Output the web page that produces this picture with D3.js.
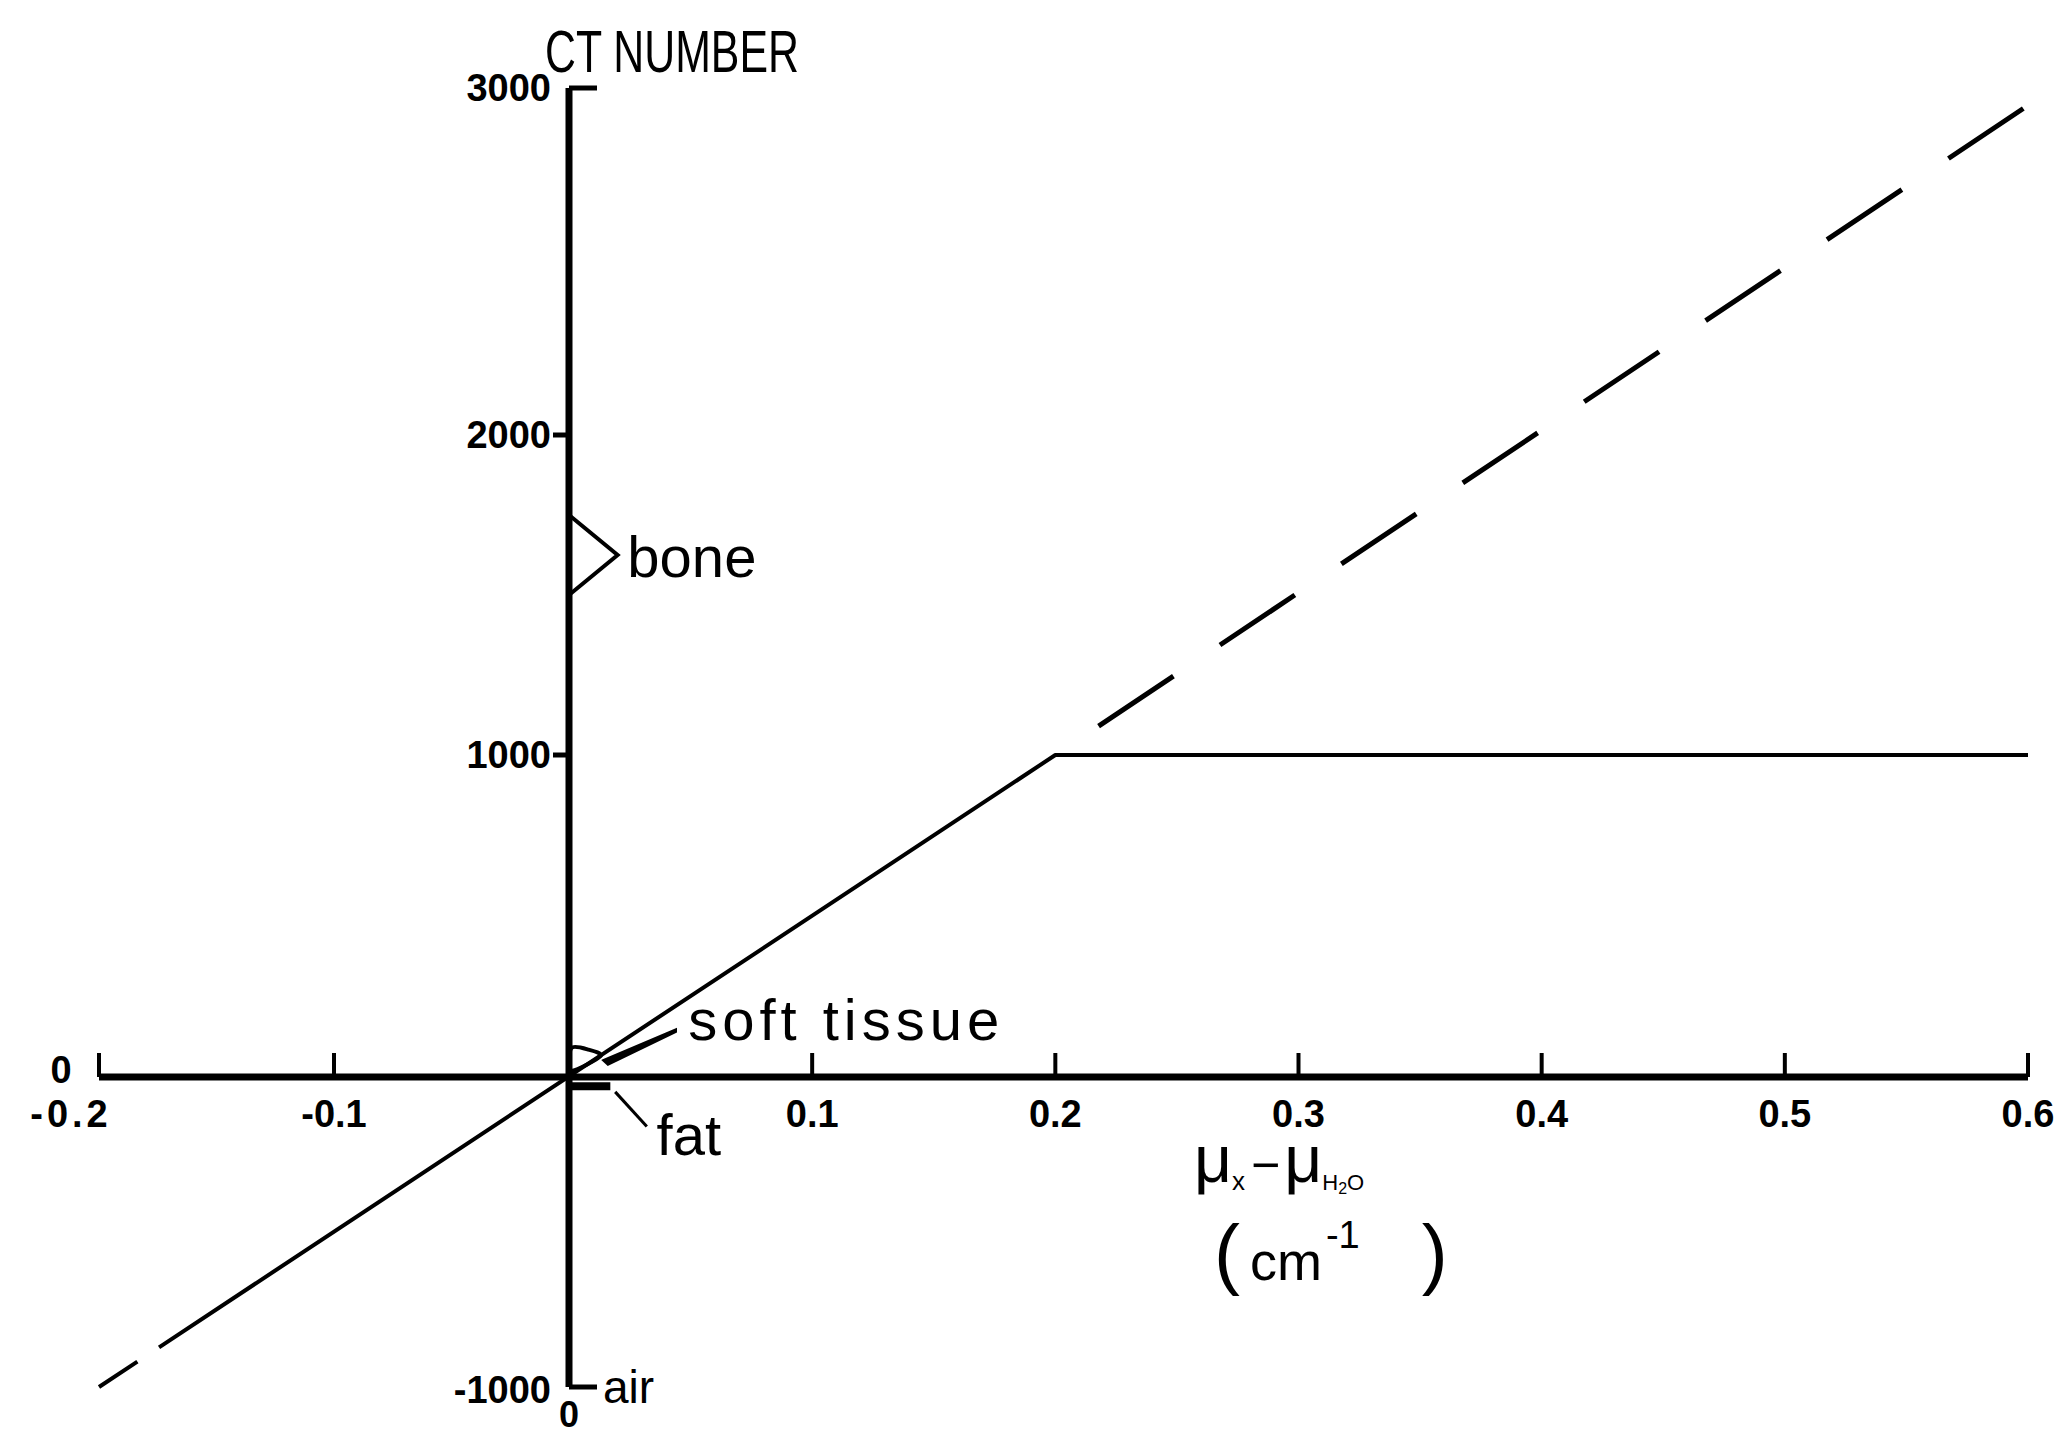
<!DOCTYPE html>
<html>
<head>
<meta charset="utf-8">
<script src="https://cdn.jsdelivr.net/npm/d3@7"></script>
<style>
  html, body { margin: 0; padding: 0; background: #fff; }
  svg { display: block; }
  .lbl { font-family: "Liberation Sans", Arial, sans-serif; fill: #000; }
  .tick { font-family: "Liberation Sans", Arial, sans-serif; font-weight: bold; fill: #000; }
</style>
</head>
<body>
<svg id="chart" width="2069" height="1435"></svg>
<script>
// x axis: attenuation difference mu_x - mu_H2O (cm^-1)
const xTicks = [-0.2, -0.1, 0, 0.1, 0.2, 0.3, 0.4, 0.5, 0.6];
const xTickLabels = ["-0.2", "-0.1", "0", "0.1", "0.2", "0.3", "0.4", "0.5", "0.6"];
// y axis: CT number
const yTicks = [-1000, 0, 1000, 2000, 3000];
const yTickLabels = ["-1000", "0", "1000", "2000", "3000"];

// displayed CT number (saturates at +1000)
const muDiff = [-0.2, 0.2, 0.6];
const ctShown = [-1000, 1000, 1000];
// continuation of the linear relation above the saturation point
const muDiffIdeal = [0.2, 0.6];
const ctIdeal = [1000, 2950];

// tissue ranges on the CT scale
const tissueNames = ["bone", "soft tissue", "fat", "air"];
const tissueLow = [1500, 20, -100, -1000];
const tissueHigh = [1750, 90, -20, -1000];

const svg = d3.select("#chart");
svg.append("rect").attr("width", 2069).attr("height", 1435).attr("fill", "#fff");

// hand-ruled axes: tick spacing is not perfectly even
const x = d3.scaleLinear().domain([-0.2, 0, 0.6]).range([99, 569, 2028]);
const y = d3.scaleLinear().domain([-1000, 0, 1000, 2000, 3000]).range([1387, 1077, 755, 435, 88]);

const g = svg.append("g");

// ---- axes ----
g.append("line")
  .attr("x1", x(xTicks[0])).attr("x2", x(xTicks[xTicks.length - 1]))
  .attr("y1", y(0)).attr("y2", y(0))
  .attr("stroke", "#000").attr("stroke-width", 7);
g.append("line")
  .attr("x1", x(0)).attr("x2", x(0))
  .attr("y1", y(yTicks[0])).attr("y2", y(yTicks[yTicks.length - 1]))
  .attr("stroke", "#000").attr("stroke-width", 7);

// x ticks point upward
g.selectAll(".xt").data(xTicks.filter(d => d !== 0)).enter().append("line")
  .attr("x1", d => x(d)).attr("x2", d => x(d))
  .attr("y1", y(0)).attr("y2", y(0) - 24)
  .attr("stroke", "#000").attr("stroke-width", 4);

// y ticks: end ticks point right, inner ticks point left
const yTickDir = d => (d === 3000 || d === -1000) ? 1 : -1;
g.selectAll(".yt").data(yTicks.filter(d => d !== 0)).enter().append("line")
  .attr("x1", x(0)).attr("x2", d => x(0) + yTickDir(d) * (yTickDir(d) > 0 ? 28 : 16))
  .attr("y1", d => y(d)).attr("y2", d => y(d))
  .attr("stroke", "#000").attr("stroke-width", 5);

// x tick labels
xTicks.forEach((d, i) => {
  if (d === 0) return;
  const shift = d === -0.2 ? -28 : 0;
  g.append("text").attr("class", "tick")
    .attr("x", x(d) + shift).attr("y", y(0) + 50)
    .attr("text-anchor", "middle").attr("font-size", 38)
    .attr("letter-spacing", d === -0.2 ? 4 : 0)
    .text(xTickLabels[i]);
});
// x = 0 label sits under the bottom of the CT axis
g.append("text").attr("class", "tick")
  .attr("x", x(0)).attr("y", y(-1000) + 40)
  .attr("text-anchor", "middle").attr("font-size", 36)
  .text(xTickLabels[xTicks.indexOf(0)]);

// y tick labels
yTicks.forEach((d, i) => {
  if (d === 0) return;
  g.append("text").attr("class", "tick")
    .attr("x", x(0) - 18).attr("y", y(d) + (d === -1000 ? 16 : 13))
    .attr("text-anchor", "end").attr("font-size", 38)
    .text(yTickLabels[i]);
});
// CT = 0 label at the left end of the x axis
g.append("text").attr("class", "tick")
  .attr("x", x(-0.2) - 38).attr("y", y(0) + 6)
  .attr("text-anchor", "middle").attr("font-size", 38)
  .text(yTickLabels[yTicks.indexOf(0)]);

// ---- data lines ----
const line = d3.line().x(d => x(d[0])).y(d => y(d[1]));
g.append("path")
  .attr("d", line(muDiff.map((m, i) => [m, ctShown[i]])))
  .attr("fill", "none").attr("stroke", "#000").attr("stroke-width", 4)
  .attr("stroke-linejoin", "round")
  .attr("stroke-dasharray", "46 26 100000");
g.append("path")
  .attr("d", line(muDiffIdeal.map((m, i) => [m, ctIdeal[i]])))
  .attr("fill", "none").attr("stroke", "#000").attr("stroke-width", 5)
  .attr("stroke-dasharray", "0 52 90 56 90 56 90 56 90 56 90 56 90 56 90 56 90 56 90");

// ---- tissue annotations ----
// bone: bracket from low to high CT value
const bi = tissueNames.indexOf("bone");
const boneMid = (tissueLow[bi] + tissueHigh[bi]) / 2;
g.append("path")
  .attr("d", `M${x(0)},${y(tissueHigh[bi])} L${x(0.02)},${y(boneMid)} L${x(0)},${y(tissueLow[bi])}`)
  .attr("fill", "none").attr("stroke", "#000").attr("stroke-width", 4);
g.append("text").attr("class", "lbl")
  .attr("x", x(0.024)).attr("y", y(boneMid) + 22)
  .attr("font-size", 58).text(tissueNames[bi]);

// soft tissue: small loop just above zero plus leader
const si = tissueNames.indexOf("soft tissue");
const loop = d3.line().x(d => x(d[0])).y(d => y(d[1])).curve(d3.curveCardinalClosed.tension(0.2));
g.append("path")
  .attr("d", loop([[0.001, tissueLow[si]], [0.001, tissueHigh[si]], [0.008, tissueHigh[si] - 5], [0.013, (tissueLow[si] + tissueHigh[si]) / 2 + 10]]))
  .attr("fill", "none").attr("stroke", "#000").attr("stroke-width", 4);
g.append("path")
  .attr("d", `M${x(0.014)},${y(52)} L${x(0.044)},${y(148)} L${x(0.044)},${y(140)} L${x(0.016)},${y(38)} Z`)
  .attr("fill", "#000").attr("stroke", "#000").attr("stroke-width", 2);
g.append("text").attr("class", "lbl")
  .attr("x", x(0.049)).attr("y", y(115))
  .attr("font-size", 58).attr("letter-spacing", 5).text(tissueNames[si]);

// fat: thick stub just below zero plus leader
const fi = tissueNames.indexOf("fat");
g.append("line")
  .attr("x1", x(0)).attr("x2", x(0.017))
  .attr("y1", y((tissueLow[fi] + tissueHigh[fi]) / 4)).attr("y2", y((tissueLow[fi] + tissueHigh[fi]) / 4))
  .attr("stroke", "#000").attr("stroke-width", 8);
g.append("line")
  .attr("x1", x(0.019)).attr("y1", y(-48))
  .attr("x2", x(0.032)).attr("y2", y(-160))
  .attr("stroke", "#000").attr("stroke-width", 3);
g.append("text").attr("class", "lbl")
  .attr("x", x(0.036)).attr("y", y(-250))
  .attr("font-size", 58).text(tissueNames[fi]);

// air: label beside the -1000 end of the axis
const ai = tissueNames.indexOf("air");
g.append("text").attr("class", "lbl")
  .attr("x", x(0) + 34).attr("y", y(tissueLow[ai]) + 16)
  .attr("font-size", 46).text(tissueNames[ai]);

// ---- axis titles ----
svg.append("text").attr("class", "lbl")
  .attr("x", 545).attr("y", 72)
  .attr("font-size", 60)
  .attr("textLength", 254).attr("lengthAdjust", "spacingAndGlyphs")
  .text("CT NUMBER");

const xt = svg.append("text").attr("class", "lbl").attr("x", 1194).attr("y", 1182);
xt.append("tspan").attr("font-size", 66).text("μ");
xt.append("tspan").attr("font-size", 26).attr("dy", 8).text("x");
xt.append("tspan").attr("font-size", 50).attr("dy", -8).attr("dx", 6).text("−");
xt.append("tspan").attr("font-size", 66).attr("dx", 4).text("μ");
xt.append("tspan").attr("font-size", 22).attr("dy", 8).text("H");
xt.append("tspan").attr("font-size", 16).attr("dy", 4).text("2");
xt.append("tspan").attr("font-size", 22).attr("dy", -4).text("O");

const ut = svg.append("text").attr("class", "lbl").attr("x", 1214).attr("y", 1280);
ut.append("tspan").attr("font-size", 78).text("(");
ut.append("tspan").attr("font-size", 54).attr("dx", 10).text("cm");
ut.append("tspan").attr("font-size", 38).attr("dy", -32).attr("dx", 4).text("-1");
ut.append("tspan").attr("font-size", 78).attr("dy", 32).attr("dx", 62).text(")");
</script>
</body>
</html>
